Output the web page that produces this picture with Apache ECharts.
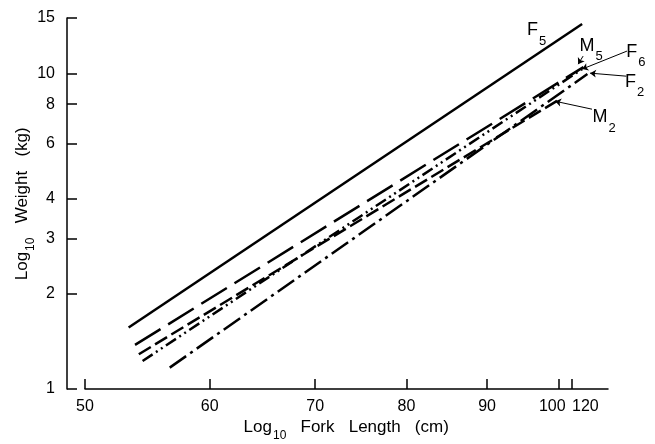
<!DOCTYPE html>
<html><head><meta charset="utf-8">
<script src="https://cdn.jsdelivr.net/npm/echarts@6/dist/echarts.min.js"></script>
<style>html,body{margin:0;padding:0;background:#fff}#c{width:655px;height:444px}</style>
</head><body><div id="c"></div>
<script>
// ---- data (fork length cm, weight kg) ----
const seriesNames = ['F5', 'M5', 'F6', 'F2', 'M2'];
const f5Length = [53.3, 103.4];
const f5Weight = [1.566, 14.36];
const m5Length = [53.8, 103.6];
const m5Weight = [1.380, 10.48];
const f6Length = [54.4, 103.4];
const f6Weight = [1.227, 10.33];
const f2Length = [56.6, 104.2];
const f2Weight = [1.169, 9.96];
const m2Length = [54.1, 99.7];
const m2Weight = [1.289, 8.2];

// ---- axis ticks ----
const xTickValues = [50, 60, 70, 80, 90, 100, 101.9];
const xLabelValues = [50, 60, 70, 80, 90, 99.0, 103.9];
const xLabelTexts = ['50', '60', '70', '80', '90', '100', '120'];
const yTickValues = [1, 2, 3, 4, 6, 8, 10, 15];
const yLabelTexts = ['1', '2', '3', '4', '6', '8', '10', '15'];

// ---- annotations (data coords) ----
const annotLabelLength = [96.8, 104.8, 111.9, 111.7, 106.8];
const annotLabelWeight = [13.3, 11.9, 11.4, 9.15, 7.05];
const leaderFromLength = [null, 103.55, 110.4, 110.3, 104.9];
const leaderFromWeight = [null, 11.36, 11.78, 9.81, 7.71];
const leaderToLength = [null, 102.8, 103.4, 104.6, 99.4];
const leaderToWeight = [null, 10.71, 10.33, 10.03, 8.17];

const FONT = "'Liberation Sans', Arial, sans-serif";
const lengths = [f5Length, m5Length, f6Length, f2Length, m2Length];
const weights = [f5Weight, m5Weight, f6Weight, f2Weight, m2Weight];
const dashes = ['solid', [30, 9], [12, 4, 2, 4, 2, 4], [20, 5, 3, 5], [14, 5]];

const annRich = {
  b: {fontSize: 18, fontFamily: FONT, color: '#000', lineHeight: 18, verticalAlign: 'top'},
  s: {fontSize: 13, fontFamily: FONT, color: '#000', lineHeight: 13, verticalAlign: 'bottom', padding: [0, 0, 0, 1]},
  z: {fontSize: 2, lineHeight: 26, verticalAlign: 'middle'}
};
const titleRich = {
  t: {fontSize: 17, fontFamily: FONT, color: '#000', lineHeight: 17, verticalAlign: 'top'},
  s: {fontSize: 12, fontFamily: FONT, color: '#000', lineHeight: 12, verticalAlign: 'bottom', padding: [0, 0, 0, 1]},
  z: {fontSize: 2, lineHeight: 23, verticalAlign: 'middle'}
};

const series = seriesNames.map((name, i) => {
  const s = {
    type: 'line', name: name, xAxisIndex: 0, yAxisIndex: 0,
    data: lengths[i].map((L, k) => [L, weights[i][k]]),
    symbol: 'none', showSymbol: false, clip: false, silent: true,
    lineStyle: {color: '#000', width: 2.5, type: dashes[i], cap: 'butt'},
    markPoint: {
      silent: true, symbol: 'circle', symbolSize: 1,
      itemStyle: {color: 'rgba(0,0,0,0)'},
      data: [{coord: [annotLabelLength[i], annotLabelWeight[i]]}],
      label: {show: true, position: 'inside', formatter: '{b|' + name[0] + '}{s|' + name[1] + '}{z| }', rich: annRich}
    }
  };
  if (leaderFromLength[i] !== null) {
    s.markLine = {
      silent: true, symbol: ['none', 'arrow'], symbolSize: 6,
      lineStyle: {color: '#000', width: 1, type: 'solid'},
      label: {show: false},
      data: [[{coord: [leaderFromLength[i], leaderFromWeight[i]]}, {coord: [leaderToLength[i], leaderToWeight[i]]}]]
    };
  }
  return s;
});

const axisLineStyle = {color: '#000', width: 1.5};
const option = {
  animation: false,
  backgroundColor: '#fff',
  grid: [
    {left: 67, right: 5, top: 18, bottom: 55, outerBoundsMode: 'none', containLabel: false},
    {left: 85, right: 47, top: 18, bottom: 55, outerBoundsMode: 'none', containLabel: false}
  ],
  xAxis: [
    {type: 'log', gridIndex: 0, min: 48.71, max: 114.18, show: false},
    {
      type: 'log', gridIndex: 1, min: 50, max: 107.4,
      axisLine: {show: true, onZero: false, lineStyle: axisLineStyle},
      axisTick: {show: true, inside: true, length: 10, customValues: xTickValues, lineStyle: axisLineStyle},
      axisLabel: {
        show: true, customValues: xLabelValues, margin: 10,
        fontSize: 16, fontFamily: FONT, color: '#000',
        formatter: (v) => {
          let best = 0;
          xLabelValues.forEach((x, k) => { if (Math.abs(x - v) < Math.abs(xLabelValues[best] - v)) best = k; });
          return xLabelTexts[best];
        }
      },
      splitLine: {show: false}, minorTick: {show: false},
      name: '{t|Log}{s|10}{t|   Fork   Length   (cm)}{z| }',
      nameLocation: 'middle', nameGap: 30, nameMoveOverlap: false,
      nameTextStyle: {rich: titleRich}
    }
  ],
  yAxis: [
    {
      type: 'log', gridIndex: 0, min: 1, max: 15,
      axisLine: {show: true, onZero: false, lineStyle: axisLineStyle},
      axisTick: {show: true, inside: true, length: 10, customValues: yTickValues, lineStyle: axisLineStyle},
      axisLabel: {
        show: true, customValues: yTickValues, margin: 12,
        fontSize: 16, fontFamily: FONT, color: '#000',
        formatter: (v) => {
          let best = 0;
          yTickValues.forEach((y, k) => { if (Math.abs(y - v) < Math.abs(yTickValues[best] - v)) best = k; });
          return yLabelTexts[best];
        }
      },
      splitLine: {show: false}, minorTick: {show: false},
      name: '{t|Log}{s|10}{t|   Weight   (kg)}{z| }',
      nameLocation: 'middle', nameRotate: 90, nameGap: 30, nameMoveOverlap: false,
      nameTextStyle: {rich: titleRich}
    },
    {type: 'log', gridIndex: 1, min: 1, max: 15, show: false}
  ],
  series: series
};
const chart = echarts.init(document.getElementById('c'), null, {renderer: 'canvas'});
chart.setOption(option);
</script>
</body></html>
